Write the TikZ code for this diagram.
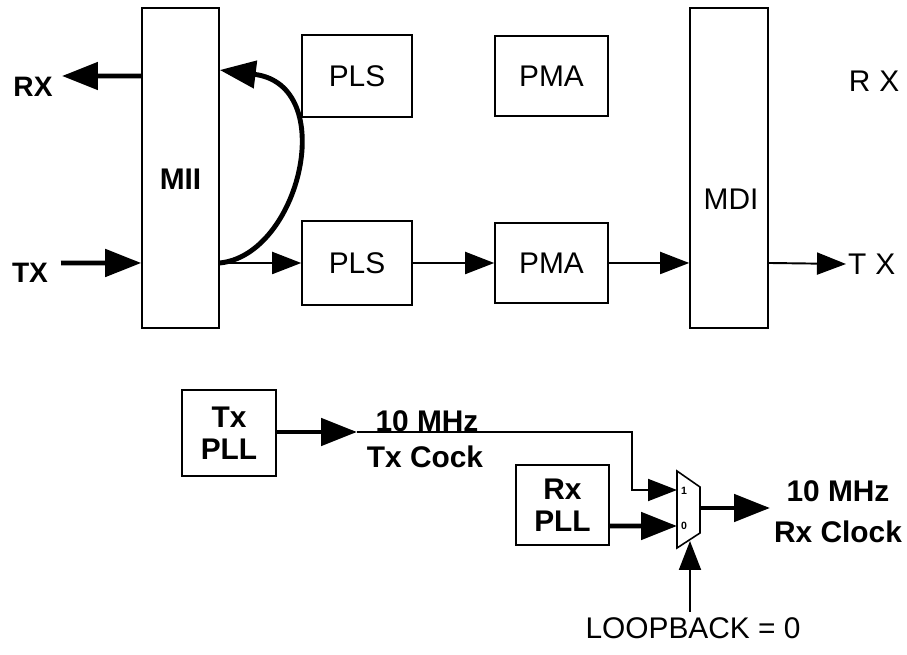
\documentclass[tikz,border=0pt]{standalone}
\usepackage{fontspec}
\setmainfont{Liberation Sans}
\newfontfamily\widefont[LetterSpace=30]{Liberation Sans}
\usetikzlibrary{arrows.meta}

\begin{document}
\begin{tikzpicture}[x=0.02cm, y=-0.02cm, font=\fontsize{17}{18}\selectfont,
    blk/.style={draw, line width=0.9pt, inner sep=0pt, align=center},
    bold/.style={font=\fontsize{17}{18}\selectfont\bfseries},
    bigarr/.style={line width=2.8pt, -{Triangle[length=0.72cm, width=0.54cm]}},
    smallarr/.style={line width=1.1pt, -{Triangle[length=0.58cm, width=0.44cm]}}]
    \useasboundingbox (0,0) rectangle (907,655);
    \node[blk, bold, minimum width=1.54cm, minimum height=6.4cm] (mii) at (180.5,168) {\raisebox{-0.22cm}[\height][\depth]{MII}};
    \node[blk, minimum width=2.2cm, minimum height=1.64cm] (pls_top) at (357,76) {PLS};
    \node[blk, minimum width=2.26cm, minimum height=1.6cm] (pma_top) at (551.5,76) {PMA};
    \node[blk, minimum width=2.2cm, minimum height=1.68cm] (pls_bot) at (357,263) {PLS};
    \node[blk, minimum width=2.26cm, minimum height=1.6cm] (pma_bot) at (551.5,263) {PMA};
    \node[blk, minimum width=1.56cm, minimum height=6.4cm] (mdi) at (729,168) {\hspace{0.08cm}\raisebox{-0.62cm}[\height][\depth]{MDI}};
    \node[font=\fontsize{16}{18}\selectfont\bfseries] (rx_l) at (33,87) {RX};
    \node[font=\fontsize{16}{18}\selectfont\bfseries] (tx_l) at (30,273) {TX};
    \node (rx_r) at (874,81) {\widefont RX};
    \node[anchor=west, inner sep=1pt] (tx_r) at (846,264) {\widefont TX};
    \coordinate (rx_tip) at (62,76);
    \coordinate (tx_start) at (61,263);
    \draw[bigarr] ([yshift=1.84cm]mii.west) -- (rx_tip);
    \draw[bigarr] (tx_start) -- ([yshift=-1.9cm]mii.west);
    \draw[bigarr] ([yshift=-1.9cm]mii.east) .. controls (300,255) and (340,85) .. ([yshift=1.96cm]mii.east);
    \draw[smallarr] ([yshift=-1.9cm]mii.east) -- (pls_bot.west);
    \draw[smallarr] (pls_bot.east) -- (pma_bot.west);
    \draw[smallarr] (pma_bot.east) -- ([yshift=-1.9cm]mdi.west);
    \draw[smallarr] ([yshift=-1.9cm]mdi.east) -- (tx_r.west);

    \node[blk, bold, minimum width=1.88cm, minimum height=1.72cm] (tx_pll) at (229,433) {Tx\\PLL};
    \node[blk, bold, minimum width=1.86cm, minimum height=1.6cm] (rx_pll) at (562.5,505) {Rx\\PLL};
    \node[bold] (tx_freq) at (427,421) {10 MHz};
    \node[bold] (tx_clk) at (425,457) {Tx Cock};
    \node[bold] (rx_freq) at (838,491) {10 MHz};
    \node[bold] (rx_clk) at (838,532) {Rx Clock};
    \node[inner sep=3pt] (loopback) at (693,628) {LOOPBACK = 0};
    \draw[line width=0.9pt] (677,471) -- (700,487) -- (700,533) -- (677,548) -- cycle;
    \node[font=\fontsize{6}{6}\selectfont\bfseries] (mux_one) at (684,491) {1};
    \node[font=\fontsize{6}{6}\selectfont\bfseries] (mux_zero) at (684,526) {0};
    \coordinate (mux_in1) at (677,490);
    \coordinate (mux_in0) at (677,526);
    \coordinate (mux_out) at (700,508);
    \coordinate (mux_sel) at (690,541);
    \coordinate (tx_tip) at (357,432);
    \coordinate (tx_bend) at (632,432);
    \coordinate (rx_tip) at (770,508);
    \draw[bigarr] (tx_pll.east |- tx_tip) -- (tx_tip);
    \draw[smallarr] (tx_tip) -- (tx_bend) |- (mux_in1);
    \draw[bigarr] ([yshift=-0.42cm]rx_pll.east) -- (mux_in0);
    \draw[bigarr] (mux_out) -- (rx_tip);
    \draw[smallarr] (loopback.north -| mux_sel) -- (mux_sel);
\end{tikzpicture}
\end{document}
